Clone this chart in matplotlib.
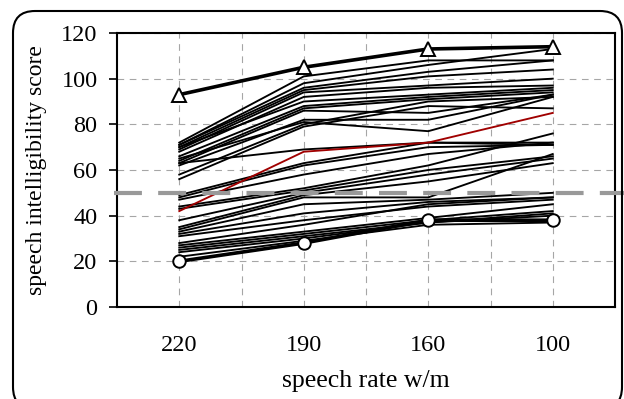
import matplotlib
matplotlib.use("Agg")
import matplotlib.pyplot as plt
from matplotlib.patches import FancyBboxPatch

plt.rcParams['font.family'] = ['Liberation Serif', 'DejaVu Serif']

rates = ["220", "190", "160", "100"]

# best and worst listener
topScores = [93, 105, 113, 114]
bottomScores = [20, 28, 38, 38]
# highlighted listener
redScores = [42, 68, 72, 85]

# all the other listeners
otherScores = [
    [72, 101, 108, 108],
    [71, 98, 106, 113],
    [71, 96, 103, 108],
    [70, 95, 101, 104],
    [69, 94, 97, 100],
    [68, 92, 96, 97],
    [70, 90, 93, 96],
    [66, 88, 92, 95],
    [64, 87, 91, 94],
    [63, 86, 85, 93],
    [62, 82, 82, 93],
    [65, 81, 77, 92],
    [63, 69, 72, 71],
    [58, 80, 90, 92],
    [56, 79, 88, 87],
    [49, 63, 72, 72],
    [48, 62, 70, 71],
    [47, 58, 67, 72],
    [44, 52, 62, 76],
    [43, 51, 60, 66],
    [38, 50, 58, 65],
    [35, 49, 55, 63],
    [34, 48, 48, 67],
    [33, 45, 47, 50],
    [32, 41, 46, 48],
    [31, 38, 44, 47],
    [28, 36, 45, 48],
    [27, 33, 39, 45],
    [26, 32, 38, 42],
    [25, 31, 37, 41],
    [24, 30, 37, 40],
    [22, 29, 36, 37],
]

threshold = 50

fig = plt.figure(figsize=(6.24, 3.99), dpi=100)
ax = fig.add_axes([0.1875, 0.2306, 0.7981, 0.6867])

x = list(range(len(rates)))

for s in otherScores:
    ax.plot(x, s, color="black", lw=1.35, zorder=3)
ax.plot(x, redScores, color="#a00000", lw=1.35, zorder=3)
ax.plot(x, topScores, color="black", lw=2.6, marker="^", ms=10,
        mfc="white", mec="black", mew=1.4, zorder=5)
ax.plot(x, bottomScores, color="black", lw=2.6, marker="o", ms=9,
        mfc="white", mec="black", mew=1.4, zorder=5)

# threshold line runs past the plot box
ax.plot([-0.006, 1.02], [threshold, threshold], color="#999999", lw=3,
        linestyle=(0, (6.7, 3.9)), transform=ax.get_yaxis_transform(),
        clip_on=False, zorder=4)

ax.set_xlim(-0.5, 3.5)
ax.set_ylim(0, 120)
ax.set_yticks(range(0, 121, 20))
ax.set_xticks(x)
ax.set_xticklabels(rates)
ax.set_xticks([0.5, 1.5, 2.5], minor=True)

gridStyle = dict(color="#a6a6a6", lw=0.8, linestyle=(0, (6, 5)))
ax.grid(True, which="major", **gridStyle)
ax.grid(True, which="minor", axis="x", **gridStyle)
ax.set_axisbelow(True)

ax.tick_params(axis="y", direction="out", length=6, width=1.2, pad=8, labelsize=17.5)
ax.tick_params(axis="x", which="both", length=0, pad=20, labelsize=17.5)

for sp in ax.spines.values():
    sp.set_linewidth(1.5)

ax.set_ylabel("speech intelligibility score", fontsize=17, labelpad=10)
ax.set_xlabel("speech rate w/m", fontsize=18.5, labelpad=10)

frame = FancyBboxPatch((0.13, -0.1), 6.09, 3.98,
                       boxstyle="round,pad=0,rounding_size=0.22",
                       transform=fig.dpi_scale_trans, fill=False,
                       edgecolor="black", lw=1.5, zorder=0)
fig.patches.append(frame)

fig.savefig("out.png", dpi=100)
